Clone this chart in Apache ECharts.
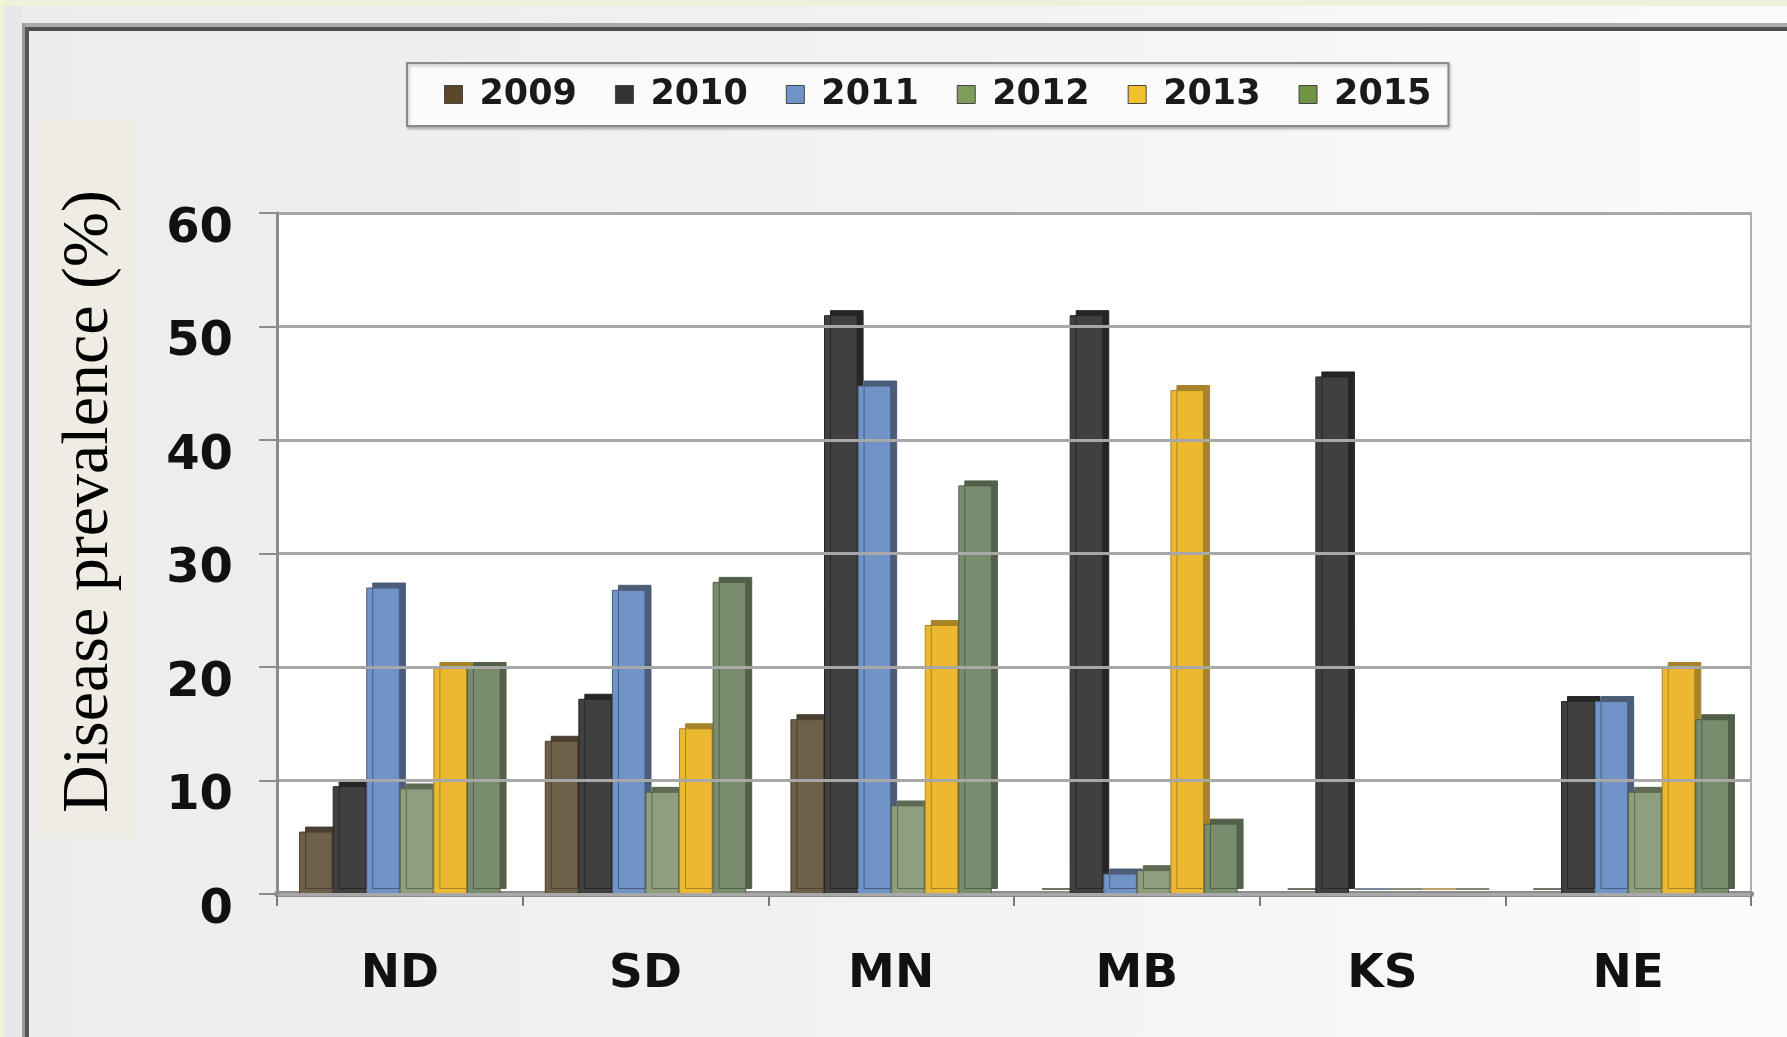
<!DOCTYPE html>
<html>
<head>
<meta charset="utf-8">
<script src="https://cdn.jsdelivr.net/npm/echarts@6/dist/echarts.min.js"></script>
<style>
html,body{margin:0;padding:0;}
body{width:1787px;height:1037px;background:linear-gradient(90deg,#ececec 0%,#f2f2f2 50%,#fbfbfb 100%);}
#chart{width:1787px;height:1037px;}
</style>
</head>
<body>
<div id="chart"></div>
<script>
const categories = ['ND', 'SD', 'MN', 'MB', 'KS', 'NE'];
const years = ['2009', '2010', '2011', '2012', '2013', '2015'];
const v2009 = [5.5, 13.5, 15.4, 0, 0, 0];
const v2010 = [9.5, 17.2, 51, 51, 45.6, 17];
const v2011 = [27, 26.8, 44.8, 1.8, 0, 17];
const v2012 = [9.3, 9, 7.8, 2.1, 0, 9];
const v2013 = [20, 14.6, 23.7, 44.4, 0, 20];
const v2015 = [20, 27.5, 36, 6.2, 0, 15.4];
const yTicks = [0, 10, 20, 30, 40, 50, 60];

const seriesValues = [v2009, v2010, v2011, v2012, v2013, v2015];
const faceColors = ['#6e5f48', '#404040', '#7094c8', '#8e9f7d', '#ebb830', '#7a8c6e'];
const sideColors = ['#4a3f30', '#262626', '#4b5d78', '#5e6a52', '#a7842a', '#525f49'];
const legendColors = ['#5a4628', '#333333', '#6f94c8', '#7e9c5c', '#f2c12e', '#6e9444'];

const chart = echarts.init(document.getElementById('chart'), null, {renderer: 'canvas'});

const series = years.map((y, i) => ({
  name: y,
  type: 'bar',
  data: seriesValues[i],
  barGap: '0%',
  barCategoryGap: '18%',
  itemStyle: {
    color: faceColors[i],
    borderColor: sideColors[i],
    borderWidth: 1,
    shadowColor: sideColors[i],
    shadowBlur: 0,
    shadowOffsetX: 6,
    shadowOffsetY: -5
  }
}));

chart.setOption({
  animation: false,
  backgroundColor: 'transparent',
  graphic: [
    {type: 'rect', z: 0, shape: {x: 0, y: 0, width: 1787, height: 6}, style: {fill: '#eef2d8'}},
    {type: 'rect', z: 0, shape: {x: 0, y: 0, width: 4, height: 1037}, style: {fill: '#f3f1d6'}},
    {type: 'rect', z: 0, shape: {x: 4, y: 6, width: 18, height: 1031}, style: {fill: '#e7e7e7'}},
    {type: 'rect', z: 0, shape: {x: 22, y: 23, width: 1765, height: 4}, style: {fill: '#ababab'}},
    {type: 'rect', z: 0, shape: {x: 22, y: 27, width: 1765, height: 4}, style: {fill: '#4f4f4f'}},
    {type: 'rect', z: 0, shape: {x: 22, y: 23, width: 3, height: 1014}, style: {fill: '#9a9a9a'}},
    {type: 'rect', z: 0, shape: {x: 25, y: 27, width: 4, height: 1010}, style: {fill: '#555555'}},
    {type: 'rect', z: 0, shape: {x: 36, y: 120, width: 98, height: 718}, style: {fill: '#efede3'}}
  ],
  legend: {
    data: years.map((y, i) => ({name: y, itemStyle: {color: legendColors[i], borderColor: '#444', borderWidth: 1}})),
    left: 407,
    top: 63,
    width: 1100,
    orient: 'horizontal',
    icon: 'rect',
    itemWidth: 18,
    itemHeight: 18,
    itemGap: 38,
    padding: [14, 17, 14, 37],
    backgroundColor: '#fbfbfb',
    borderColor: '#8a8a8a',
    borderWidth: 2,
    shadowColor: 'rgba(0,0,0,0.25)',
    shadowBlur: 3,
    shadowOffsetX: 1,
    shadowOffsetY: 2,
    textStyle: {
      fontFamily: 'DejaVu Sans',
      fontWeight: 'bold',
      fontSize: 35,
      color: '#1a1a1a',
      padding: [0, 0, 0, 12]
    }
  },
  grid: {
    left: 277,
    right: 36,
    top: 213,
    bottom: 143,
    show: true,
    backgroundColor: '#ffffff',
    borderColor: '#b0b0b0',
    borderWidth: 2,
    containLabel: false
  },
  xAxis: {
    type: 'category',
    data: categories,
    axisLine: {show: true, lineStyle: {color: '#8c8c8c', width: 6}},
    axisTick: {show: true, length: 12, lineStyle: {color: '#7a7a7a', width: 2}},
    axisLabel: {
      margin: 57,
      fontFamily: 'DejaVu Sans',
      fontWeight: 'bold',
      fontSize: 47,
      color: '#111'
    },
    splitLine: {show: false}
  },
  yAxis: {
    type: 'value',
    min: 0,
    max: 60,
    interval: 10,
    z: 5,
    name: 'Disease prevalence (%)',
    nameLocation: 'middle',
    nameRotate: 90,
    nameGap: 154,
    nameTextStyle: {
      fontFamily: 'Liberation Serif',
      fontSize: 66,
      color: '#000',
      padding: [0, 0, 0, 104]
    },
    axisLine: {show: true, lineStyle: {color: '#8c8c8c', width: 3}},
    axisTick: {show: true, length: 18, lineStyle: {color: '#8c8c8c', width: 2}},
    axisLabel: {
      margin: 44,
      fontFamily: 'DejaVu Sans',
      fontWeight: 'bold',
      fontSize: 48,
      color: '#111',
      verticalAlign: 'top',
      lineHeight: 33,
      formatter: function (v) { return yTicks.indexOf(v) >= 0 ? String(v) : ''; }
    },
    splitLine: {show: true, lineStyle: {color: '#a8a8a8', width: 3}}
  },
  series: series
});
</script>
</body>
</html>
